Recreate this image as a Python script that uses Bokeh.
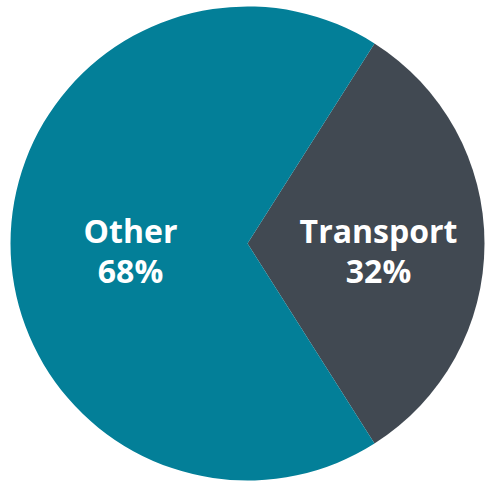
import math
from bokeh.plotting import figure
from bokeh.models import ColumnDataSource
from bokeh.core.properties import value
from bokeh.embed import file_html
from bokeh.resources import INLINE

categories = ["Transport", "Other"]
shares = [32, 68]
colors = ["#414952", "#037f98"]

W, H = 486, 485
cx, cy, r = 247, 242, 237

total = sum(shares)
start0 = -math.pi * shares[0] / total
starts, ends = [], []
a = start0
for s in shares:
    starts.append(a)
    a += 2 * math.pi * s / total
    ends.append(a)

src = ColumnDataSource(dict(cat=categories, share=shares, color=colors,
                            start=starts, end=ends,
                            x=[cx] * 2, y=[cy] * 2))

p = figure(width=W, height=H, x_range=(0, W), y_range=(0, H),
           output_backend="svg", toolbar_location=None, min_border=0)
p.axis.visible = False
p.grid.visible = False
p.outline_line_color = None
p.background_fill_color = "white"

p.wedge(x="x", y="y", radius=r, start_angle="start", end_angle="end",
        fill_color="color", line_color=None, source=src)

label_dx = [131, -117]
lx = [cx + d for d in label_dx]
name_src = ColumnDataSource(dict(x=lx, y=[cy + 13] * 2, t=categories))
pct_src = ColumnDataSource(dict(x=lx, y=[cy - 27] * 2, t=[f"{s}%" for s in shares]))
for s in (name_src, pct_src):
    p.text(x="x", y="y", text="t", source=s, text_color="white",
           text_font=value("Open Sans"), text_font_size="32px",
           text_font_style="bold", text_align="center", text_baseline="middle")

open("out.html", "w").write(file_html(p, INLINE))
